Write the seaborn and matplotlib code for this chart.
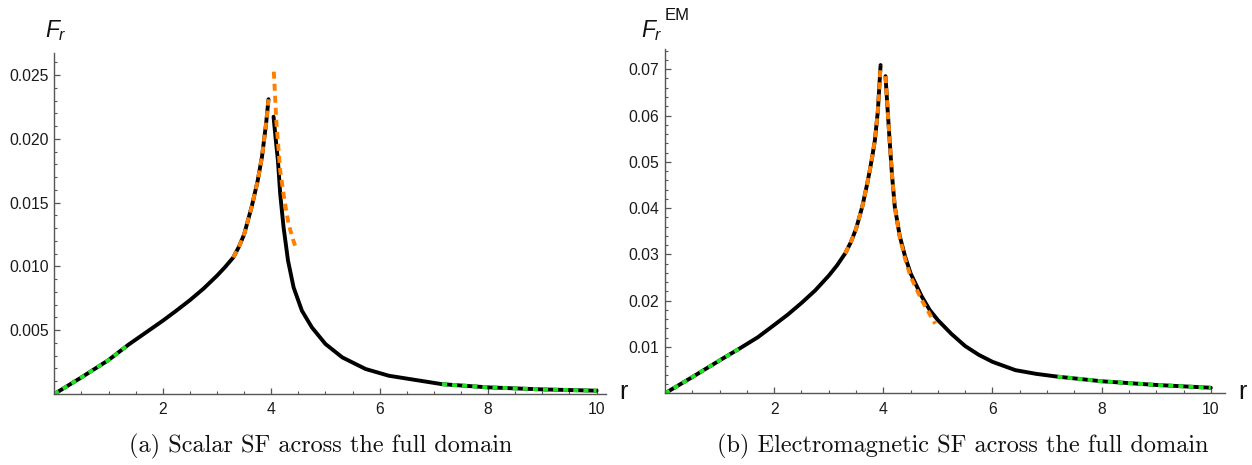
import matplotlib
matplotlib.use("Agg")
import matplotlib.pyplot as plt
import seaborn as sns
from matplotlib.ticker import MultipleLocator, FixedLocator, FormatStrFormatter

# ---- scalar SF (panel a) ----
sc_left_r = [0.0, 0.5, 1.0, 1.366, 1.7, 2.0, 2.25, 2.5, 2.75, 3.0, 3.15, 3.3, 3.4, 3.5, 3.64, 3.75, 3.83,
             3.906, 3.95]
sc_left_f = [0.0, 0.0013, 0.00266, 0.00386, 0.00485, 0.00574, 0.00653, 0.00735, 0.00825, 0.00927, 0.00995,
             0.0107, 0.0115, 0.0125, 0.01468, 0.0167, 0.0186, 0.0212, 0.0231]
sc_right_r = [4.043, 4.08, 4.124, 4.166, 4.228, 4.31, 4.413, 4.566, 4.75, 5.0, 5.31, 5.74, 6.17, 6.66, 7.15,
              8.0, 9.0, 10.0]
sc_right_f = [0.02173, 0.0201, 0.01828, 0.01567, 0.01306, 0.01045, 0.00835, 0.00653, 0.00522, 0.00392,
              0.00287, 0.00196, 0.00143, 0.0011, 0.00077, 0.00052, 0.00036, 0.00026]
sc_near_l_r = [3.3, 3.4, 3.5, 3.64, 3.75, 3.83, 3.906, 3.95]
sc_near_l_f = [0.0107, 0.0115, 0.0125, 0.01468, 0.0167, 0.0186, 0.0212, 0.0231]
sc_near_r_r = [4.048, 4.097, 4.166, 4.245, 4.32, 4.41, 4.45]
sc_near_r_f = [0.02526, 0.0212, 0.0175, 0.01515, 0.01332, 0.0120, 0.0115]
sc_small_r = [0.0, 0.5, 1.0, 1.366]
sc_small_f = [0.0, 0.0013, 0.00266, 0.00386]
sc_large_r = [7.15, 8.0, 9.0, 10.0]
sc_large_f = [0.00077, 0.00052, 0.00036, 0.00026]

# ---- electromagnetic SF (panel b) ----
em_left_r = [0.0, 0.5, 1.0, 1.37, 1.7, 2.0, 2.25, 2.5, 2.75, 3.0, 3.15, 3.3, 3.4, 3.5, 3.614, 3.7, 3.75, 3.8,
             3.846, 3.9, 3.95]
em_left_f = [0.0, 0.0035, 0.0071, 0.0097, 0.0121, 0.01475, 0.0170, 0.0195, 0.0222, 0.0254, 0.0276, 0.0302,
             0.0325, 0.0355, 0.0403, 0.0450, 0.0480, 0.0513, 0.0547, 0.061, 0.0709]
em_right_r = [4.04, 4.08, 4.115, 4.16, 4.21, 4.3, 4.4, 4.5, 4.7, 4.85, 5.0, 5.25, 5.5, 5.75, 6.0, 6.42, 6.8,
              7.19, 8.0, 9.0, 10.0]
em_right_f = [0.0685, 0.061, 0.0547, 0.047, 0.0403, 0.034, 0.0295, 0.0259, 0.021, 0.018, 0.0158, 0.0128,
              0.0102, 0.0083, 0.0068, 0.0050, 0.0042, 0.0036, 0.0026, 0.0018, 0.0012]
em_near_l_r = [3.3, 3.4, 3.5, 3.614, 3.7, 3.75, 3.8, 3.846, 3.9, 3.95]
em_near_l_f = [0.0302, 0.0325, 0.0355, 0.0403, 0.0450, 0.0480, 0.0513, 0.0547, 0.061, 0.0709]
em_near_r_r = [4.04, 4.08, 4.115, 4.16, 4.21, 4.3, 4.4, 4.5, 4.7, 4.85, 4.95]
em_near_r_f = [0.0685, 0.061, 0.0547, 0.047, 0.0403, 0.0337, 0.029, 0.0252, 0.0202, 0.0171, 0.0150]
em_small_r = [0.0, 0.5, 1.0, 1.37]
em_small_f = [0.0, 0.0035, 0.0071, 0.0097]
em_large_r = [7.19, 8.0, 9.0, 10.0]
em_large_f = [0.0036, 0.0026, 0.0018, 0.0012]

captions = ["(a) Scalar SF across the full domain", "(b) Electromagnetic SF across the full domain"]

sns.set_theme(style="ticks")
plt.rcParams["font.family"] = ["Liberation Sans", "DejaVu Sans"]
plt.rcParams["mathtext.fontset"] = "custom"
plt.rcParams["mathtext.it"] = "Liberation Sans:italic"
plt.rcParams["mathtext.rm"] = "Liberation Sans"

W, H = 1252, 465
fig = plt.figure(figsize=(W / 100, H / 100), dpi=100)

AX_GRAY = "#555555"
LW = 2.8
ORANGE = "#ff8000"
GREEN = "#1ee61e"


def px(x, y):
    return x / W, 1 - y / H


def draw_panel(ax, left, right, near_l, near_r, small, large, ymax, xmax, ymajor, yminor, fmt):
    # black full-solution branches
    for rr, ff in (left, right):
        sns.lineplot(x=rr, y=ff, ax=ax, color="black", lw=LW, sort=False, estimator=None)
    # near-charge approximation (orange dashed)
    for rr, ff in (near_l, near_r):
        sns.lineplot(x=rr, y=ff, ax=ax, color=ORANGE, lw=LW, sort=False, estimator=None,
                     linestyle=(0, (1.8, 1.3)))
    # small / large r approximations (green dashed)
    for rr, ff in (small, large):
        sns.lineplot(x=rr, y=ff, ax=ax, color=GREEN, lw=LW, sort=False, estimator=None,
                     linestyle=(0, (1.3, 1.3)))

    ax.set_xlim(0, xmax)
    ax.set_ylim(0, ymax)
    for s in ["top", "right"]:
        ax.spines[s].set_visible(False)
    for s in ["left", "bottom"]:
        ax.spines[s].set_color(AX_GRAY)
        ax.spines[s].set_linewidth(1.0)
    ax.xaxis.set_major_locator(FixedLocator([2, 4, 6, 8, 10]))
    ax.xaxis.set_minor_locator(MultipleLocator(0.5))
    ax.yaxis.set_major_locator(FixedLocator(ymajor))
    ax.yaxis.set_minor_locator(MultipleLocator(yminor))
    ax.yaxis.set_major_formatter(FormatStrFormatter(fmt))
    ax.tick_params(which="major", direction="in", length=4, width=0.9, color=AX_GRAY,
                   labelsize=11.3, labelcolor="#1a1a1a")
    ax.tick_params(which="minor", direction="in", length=2.2, width=0.8, color=AX_GRAY)
    ax.tick_params(axis="x", which="major", pad=6)
    ax.tick_params(axis="y", which="major", pad=4)
    ax.set_xlabel("")
    ax.set_ylabel("")
    ax.set_facecolor("white")


ax1 = fig.add_axes([54.3 / W, 1 - 394 / H, 551.5 / W, 340.7 / H])
draw_panel(ax1, (sc_left_r, sc_left_f), (sc_right_r, sc_right_f),
           (sc_near_l_r, sc_near_l_f), (sc_near_r_r, sc_near_r_f),
           (sc_small_r, sc_small_f), (sc_large_r, sc_large_f),
           0.0267, 10.17, [0.005, 0.010, 0.015, 0.020, 0.025], 0.001, "%.3f")

ax2 = fig.add_axes([665 / W, 1 - 393.3 / H, 560 / W, 344 / H])
draw_panel(ax2, (em_left_r, em_left_f), (em_right_r, em_right_f),
           (em_near_l_r, em_near_l_f), (em_near_r_r, em_near_r_f),
           (em_small_r, em_small_f), (em_large_r, em_large_f),
           0.0743, 10.26, [0.01, 0.02, 0.03, 0.04, 0.05, 0.06, 0.07], 0.002, "%.2f")

# axis labels, Mathematica style
fig.text(*px(45, 31), r"$F_r$", fontsize=16.5, ha="left", va="center", color="#111111")
fig.text(*px(641, 31), r"$F_r$", fontsize=16.5, ha="left", va="center", color="#111111")
fig.text(*px(665, 16), "EM", fontsize=12, ha="left", va="center", color="#111111")
fig.text(*px(623, 392), "r", fontsize=18, ha="center", va="center", color="#111111")
fig.text(*px(1242, 392), "r", fontsize=18, ha="center", va="center", color="#111111")

# captions
fig.text(*px(321, 446), captions[0], fontsize=17.5, family="cmr10", ha="center", va="center", color="#111111")
fig.text(*px(963, 446), captions[1], fontsize=17.5, family="cmr10", ha="center", va="center", color="#111111")

fig.savefig("out.png", dpi=100, facecolor="white")
